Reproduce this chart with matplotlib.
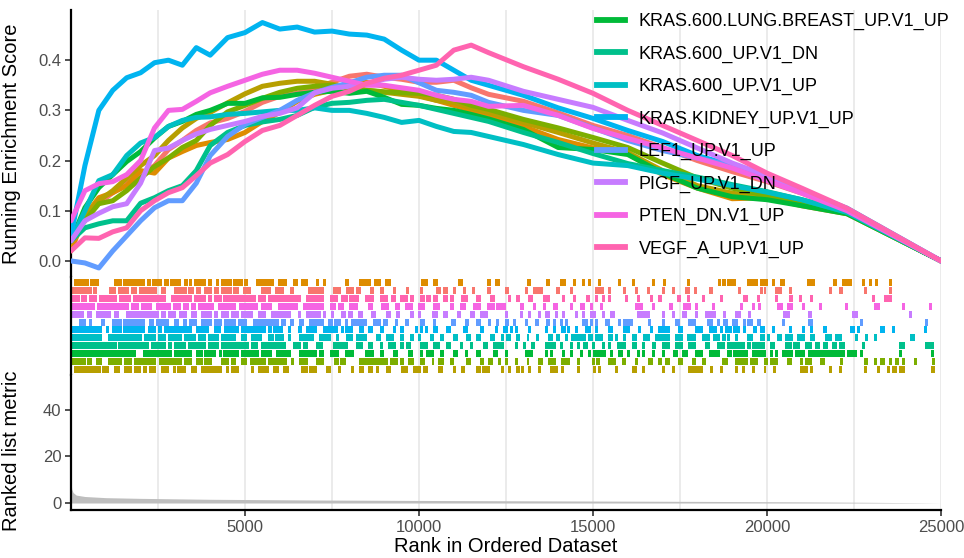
import matplotlib.pyplot as plt
from matplotlib.lines import Line2D

plt.rcParams['font.family'] = ['Liberation Sans', 'DejaVu Sans']

# ---------------------------------------------------------------------------
# data
# ---------------------------------------------------------------------------
GENE_SETS = ['KRAS.300_UP.V1_DN', 'KRAS.300_UP.V1_UP', 'KRAS.50_UP.V1_DN',
             'KRAS.50_UP.V1_UP', 'KRAS.600.LUNG.BREAST_UP.V1_UP',
             'KRAS.600_UP.V1_DN', 'KRAS.600_UP.V1_UP', 'KRAS.KIDNEY_UP.V1_UP',
             'LEF1_UP.V1_UP', 'PIGF_UP.V1_DN', 'PTEN_DN.V1_UP', 'VEGF_A_UP.V1_UP']
COLORS = ['#F8766D', '#DE8C00', '#B79F00', '#7CAE00', '#00BA38', '#00C08B',
          '#00BFC4', '#00B4F0', '#619CFF', '#C77CFF', '#F564E3', '#FF64B0']
LEGEND_SETS = GENE_SETS[4:]

RANKS = [0, 400, 800, 1200, 1600, 2000, 2400, 2800, 3200, 3600,
         4000, 4500, 5000, 5500, 6000, 6500, 7000, 7500, 8000, 8500,
         9000, 9500, 10000, 10500, 11000, 11500, 12000,
         13000, 14000, 15000, 16000, 17000, 18000, 19000, 20000, 21000,
         22300, 25000]

ES_KRAS300_DN = [0.05, 0.09, 0.115, 0.136, 0.155, 0.172, 0.19, 0.222, 0.24, 0.26,
                 0.275, 0.284, 0.298, 0.316, 0.328, 0.334, 0.344, 0.356, 0.368, 0.372,
                 0.366, 0.362, 0.356, 0.356, 0.36, 0.345, 0.332,
                 0.318, 0.295, 0.27, 0.25, 0.226, 0.2, 0.178, 0.158, 0.135, 0.1, 0.0]
ES_KRAS300_UP = [0.02, 0.09, 0.126, 0.136, 0.15, 0.18, 0.175, 0.205, 0.218, 0.23,
                 0.236, 0.242, 0.256, 0.278, 0.296, 0.318, 0.332, 0.34, 0.352, 0.356,
                 0.348, 0.34, 0.33, 0.32, 0.31, 0.3, 0.292,
                 0.268, 0.242, 0.225, 0.214, 0.172, 0.145, 0.124, 0.126, 0.11, 0.094, 0.0]
ES_KRAS50_DN = [0.04, 0.09, 0.12, 0.14, 0.165, 0.19, 0.21, 0.24, 0.265, 0.284,
                0.296, 0.315, 0.333, 0.348, 0.354, 0.358, 0.358, 0.352, 0.346, 0.34,
                0.336, 0.332, 0.328, 0.32, 0.316, 0.305, 0.296,
                0.276, 0.256, 0.235, 0.216, 0.18, 0.15, 0.135, 0.126, 0.112, 0.095, 0.0]
ES_KRAS50_UP = [0.046, 0.08, 0.114, 0.12, 0.14, 0.165, 0.188, 0.205, 0.226, 0.24,
                0.27, 0.297, 0.31, 0.324, 0.336, 0.344, 0.348, 0.35, 0.344, 0.34,
                0.337, 0.335, 0.334, 0.33, 0.322, 0.31, 0.302,
                0.282, 0.265, 0.246, 0.226, 0.195, 0.165, 0.145, 0.13, 0.115, 0.096, 0.0]
ES_KRAS600_LB = [0.04, 0.106, 0.146, 0.172, 0.198, 0.218, 0.245, 0.268, 0.278, 0.292,
                 0.30, 0.314, 0.314, 0.325, 0.326, 0.332, 0.336, 0.338, 0.334, 0.338,
                 0.326, 0.312, 0.31, 0.304, 0.30, 0.292, 0.283,
                 0.262, 0.226, 0.222, 0.212, 0.175, 0.145, 0.128, 0.122, 0.11, 0.094, 0.0]
ES_KRAS600_DN = [0.04, 0.066, 0.074, 0.08, 0.08, 0.115, 0.126, 0.14, 0.15, 0.18,
                 0.23, 0.256, 0.27, 0.277, 0.282, 0.29, 0.306, 0.314, 0.316, 0.32,
                 0.322, 0.316, 0.31, 0.302, 0.294, 0.286, 0.278,
                 0.256, 0.236, 0.214, 0.194, 0.18, 0.167, 0.152, 0.138, 0.122, 0.097, 0.0]
ES_KRAS600_UP = [0.04, 0.10, 0.16, 0.172, 0.21, 0.235, 0.246, 0.268, 0.28, 0.286,
                 0.287, 0.292, 0.294, 0.297, 0.30, 0.30, 0.305, 0.30, 0.30, 0.294,
                 0.286, 0.276, 0.28, 0.268, 0.258, 0.256, 0.248,
                 0.232, 0.212, 0.195, 0.19, 0.175, 0.163, 0.15, 0.137, 0.122, 0.097, 0.0]
ES_KIDNEY = [0.05, 0.19, 0.30, 0.34, 0.365, 0.375, 0.395, 0.40, 0.39, 0.425,
             0.41, 0.445, 0.455, 0.475, 0.462, 0.466, 0.456, 0.458, 0.452, 0.45,
             0.442, 0.42, 0.40, 0.40, 0.38, 0.36, 0.35,
             0.33, 0.305, 0.284, 0.26, 0.238, 0.21, 0.19, 0.165, 0.14, 0.105, 0.0]
ES_LEF1 = [0.0, -0.004, -0.014, 0.02, 0.05, 0.08, 0.106, 0.12, 0.12, 0.155,
           0.21, 0.248, 0.272, 0.286, 0.30, 0.32, 0.335, 0.346, 0.355, 0.366,
           0.37, 0.37, 0.355, 0.34, 0.336, 0.33, 0.316,
           0.30, 0.29, 0.265, 0.24, 0.22, 0.205, 0.19, 0.17, 0.14, 0.103, 0.0]
ES_PIGF = [0.04, 0.08, 0.095, 0.108, 0.114, 0.155, 0.22, 0.225, 0.24, 0.253,
           0.262, 0.27, 0.278, 0.288, 0.294, 0.305, 0.335, 0.344, 0.348, 0.352,
           0.362, 0.366, 0.362, 0.36, 0.362, 0.366, 0.36,
           0.338, 0.322, 0.306, 0.28, 0.255, 0.225, 0.195, 0.17, 0.14, 0.102, 0.0]
ES_PTEN = [0.08, 0.14, 0.154, 0.158, 0.172, 0.20, 0.265, 0.30, 0.302, 0.318,
           0.335, 0.348, 0.36, 0.372, 0.38, 0.38, 0.374, 0.366, 0.358, 0.35,
           0.35, 0.345, 0.34, 0.33, 0.322, 0.318, 0.308,
           0.31, 0.29, 0.264, 0.244, 0.225, 0.205, 0.185, 0.16, 0.135, 0.1, 0.0]
ES_VEGFA = [0.02, 0.046, 0.045, 0.058, 0.066, 0.10, 0.12, 0.136, 0.146, 0.17,
            0.195, 0.212, 0.238, 0.26, 0.27, 0.29, 0.31, 0.328, 0.338, 0.354,
            0.364, 0.37, 0.38, 0.39, 0.42, 0.43, 0.415,
            0.387, 0.362, 0.334, 0.30, 0.27, 0.24, 0.21, 0.175, 0.145, 0.105, 0.0]

# runs of hit ranks (start, end) for each gene set
HITS_KRAS300_DN = [(60, 350), (400, 590), (640, 730), (1120, 1260), (1360, 1640), (1740, 1880),
                   (1980, 2360), (2410, 2460), (2600, 2700), (2990, 3320), (3370, 3520),
                   (3610, 3710), (3850, 4040), (4140, 4240), (4330, 4620), (4670, 4810),
                   (4960, 5150), (5480, 5720), (5870, 5960), (6010, 6100), (6300, 6390),
                   (6820, 7260), (7540, 7740), (7930, 8120), (8220, 8310), (8600, 8700),
                   (8890, 8980), (9270, 9320), (9660, 9700), (10040, 10090), (10520, 10620),
                   (10710, 10810), (11000, 11050), (11290, 11340), (11530, 11580),
                   (11960, 12060), (12480, 12580), (13060, 13110), (13300, 13540),
                   (13970, 14020), (14350, 14400), (15070, 15310), (15460, 15510),
                   (15890, 15940), (16230, 16270), (16560, 16610), (16990, 17040),
                   (17280, 17330), (17670, 17760), (17910, 17950), (18340, 18430),
                   (19200, 19240), (19820, 19870), (19920, 19960), (20250, 20400),
                   (20640, 20690), (21790, 21840), (22080, 22170), (22800, 22840),
                   (23520, 23560)]
HITS_KRAS300_UP = [(110, 280), (320, 510), (570, 780), (1260, 1450), (1500, 2120), (2200, 2280),
                   (2360, 2600), (2700, 2800), (2870, 3130), (3280, 3350), (3420, 3470),
                   (3560, 3850), (3950, 4040), (4190, 4240), (4330, 4620), (4670, 4910),
                   (5000, 5080), (5340, 5820), (5960, 6200), (6390, 6490), (6630, 6780),
                   (7060, 7110), (7260, 7300), (7880, 7980), (8310, 8600), (8740, 8890),
                   (9030, 9180), (10090, 10140), (10180, 10230), (10420, 10520),
                   (11140, 11240), (11960, 12060), (12200, 12300), (13110, 13200),
                   (13680, 13730), (14070, 14210), (14450, 14500), (14690, 14740),
                   (14880, 14930), (15170, 15220), (15750, 15790), (16130, 16180),
                   (16710, 16750), (17040, 17090), (17710, 17760), (18620, 18670),
                   (18720, 18810), (18860, 18910), (18960, 19100), (19440, 19720),
                   (19820, 20010), (20160, 20200), (20400, 20490), (21160, 21360),
                   (21930, 21980), (22170, 22410), (22750, 22800), (22940, 22990),
                   (23130, 23180), (23520, 23560)]
HITS_KRAS50_DN = [(110, 830), (920, 1070), (1260, 1400), (1550, 1740), (1840, 1980), (2080, 2170),
                  (2270, 2410), (2600, 2800), (2940, 2990), (3080, 3280), (3470, 3610),
                  (3760, 4330), (4480, 4520), (4620, 4810), (5200, 5240), (5390, 5680),
                  (5820, 5960), (6100, 6250), (6630, 6780), (6870, 7060), (7350, 7450),
                  (7690, 7740), (8070, 8120), (8310, 8410), (8550, 8650), (8790, 8840),
                  (9080, 9180), (9510, 9660), (9850, 10040), (10140, 10230), (10570, 10660),
                  (11000, 11050), (11240, 11290), (11670, 11770), (11820, 12010),
                  (12390, 12430), (12580, 12630), (12820, 12870), (12960, 13010),
                  (13150, 13200), (13440, 13490), (13780, 13970), (14110, 14160),
                  (14550, 14590), (15030, 15070), (15170, 15220), (15650, 15700),
                  (16130, 16230), (16420, 16470), (16990, 17040), (17280, 17330),
                  (17760, 18150), (18380, 18430), (18670, 18720), (19100, 19150),
                  (19290, 19340), (19580, 19630), (19920, 19960), (20200, 20250),
                  (20970, 21160), (21260, 21310), (21790, 21840), (22080, 22130),
                  (22800, 22840), (23180, 23230), (23470, 23520), (23610, 23710),
                  (23800, 23950), (24720, 24810)]
HITS_KRAS50_UP = [(60, 400), (490, 590), (730, 880), (1070, 1450), (1550, 1740), (1840, 2410),
                  (2560, 3180), (3280, 3470), (3610, 3760), (3850, 4040), (4330, 4520),
                  (4620, 4720), (4910, 5050), (5150, 5580), (5680, 5960), (6010, 6200),
                  (6340, 6390), (6580, 6780), (7060, 7260), (7590, 7690), (7740, 7880),
                  (8310, 9080), (9180, 9370), (9460, 9560), (9700, 9850), (10040, 10140),
                  (10380, 10420), (10570, 10710), (10900, 11000), (11380, 11480),
                  (11770, 11860), (12010, 12100), (12290, 12340), (12480, 12530),
                  (12770, 12820), (13110, 13150), (13440, 13540), (13730, 13920),
                  (14110, 14310), (14550, 14590), (14980, 15030), (15120, 15170),
                  (15460, 15650), (15840, 15940), (16230, 16270), (16610, 16710),
                  (16900, 16950), (17090, 17190), (17470, 17570), (17860, 17950),
                  (18150, 18240), (18720, 18760), (18810, 18860), (19100, 19340),
                  (19390, 19440), (19530, 19720), (19920, 20010), (20110, 20300),
                  (20590, 20690), (20970, 21020), (21120, 21260), (21550, 21640),
                  (22130, 22170), (22800, 22890), (23090, 23130), (23280, 23370),
                  (23520, 23560), (23710, 23760), (23900, 23950), (24240, 24280),
                  (24770, 24810)]
HITS_KRAS600_LB = [(60, 200), (250, 1260), (1310, 1840), (2080, 2890), (2990, 3470), (3610, 3760),
                   (3850, 4140), (4280, 4330), (4380, 4810), (4910, 5390), (5480, 5770),
                   (5920, 6160), (6150, 6300), (6580, 7060), (7160, 7260), (7450, 7690),
                   (7880, 8120), (8460, 8700), (8890, 8980), (9270, 9370), (9700, 9800),
                   (10040, 10090), (10230, 10420), (10620, 10710), (11000, 11100),
                   (11340, 11380), (11670, 11770), (12150, 12250), (12480, 12530),
                   (13060, 13250), (13630, 13680), (13780, 13830), (14120, 14160),
                   (14350, 14400), (14640, 14690), (14880, 14930), (15030, 15360),
                   (15510, 15550), (15750, 15840), (15990, 16030), (16270, 16320),
                   (16420, 16470), (16710, 16750), (16990, 17040), (17330, 17430),
                   (17570, 17710), (17950, 18150), (18340, 18530), (18570, 18620),
                   (18860, 18960), (19050, 19440), (19580, 19960), (20110, 20160),
                   (20250, 20300), (20450, 20730), (20830, 21070), (21210, 21690),
                   (21740, 22220), (22320, 22560), (22700, 22750), (23800, 23850),
                   (24720, 24770)]
HITS_KRAS600_DN = [(60, 1310), (1360, 2220), (2320, 2360), (2410, 2700), (2800, 2890), (2990, 3280),
                   (3370, 3850), (3950, 4240), (4330, 5100), (5200, 5340), (5480, 6160),
                   (6010, 6100), (6390, 6580), (6680, 6780), (7060, 7210), (7540, 7930),
                   (8220, 8360), (8550, 8650), (8890, 8940), (9130, 9320), (9460, 9560),
                   (9660, 9750), (10040, 10230), (10420, 10570), (10810, 10900),
                   (11190, 11240), (11480, 11530), (11860, 11960), (12150, 12250),
                   (12290, 12430), (12770, 12820), (13010, 13060), (13250, 13300),
                   (13630, 13920), (14070, 14110), (14350, 14400), (14550, 14590),
                   (14740, 14830), (14980, 15030), (15270, 15310), (15460, 15510),
                   (15700, 15940), (16130, 16230), (16420, 16470), (16710, 16800),
                   (16990, 17190), (17380, 17570), (17760, 17950), (18240, 18340),
                   (18570, 18760), (18860, 18960), (19000, 19340), (19440, 19530),
                   (19580, 19630), (19680, 19920), (20110, 20200), (20540, 20690),
                   (20780, 20930), (21120, 21260), (21400, 21500), (21640, 21740),
                   (21890, 21980), (22080, 22220), (22750, 22800), (23800, 23850),
                   (23900, 23950), (24570, 24770)]
HITS_KRAS600_UP = [(60, 880), (1070, 2030), (2120, 2410), (2510, 2700), (2800, 3180), (3280, 3560),
                   (3660, 3850), (3950, 4240), (4330, 4720), (4910, 5050), (5200, 5480),
                   (5680, 5820), (5870, 5960), (6010, 6100), (6250, 6300), (6580, 6970),
                   (7160, 7450), (7640, 7690), (7930, 8070), (8220, 8500), (8790, 8890),
                   (9080, 9270), (9460, 9560), (9750, 9850), (9990, 10040), (10330, 10420),
                   (10620, 10710), (11000, 11100), (11380, 11480), (11670, 11770),
                   (12060, 12150), (12390, 12430), (12530, 12630), (12820, 12870),
                   (13110, 13150), (13390, 13440), (13730, 13830), (13970, 14020),
                   (14210, 14260), (14400, 14690), (14740, 14790), (14880, 14980),
                   (15070, 15270), (15460, 15550), (15650, 15700), (15890, 15940),
                   (16130, 16230), (16470, 16610), (16800, 17190), (17380, 17570),
                   (17710, 17950), (18150, 18340), (18480, 18530), (18570, 18620),
                   (18720, 18810), (18860, 18910), (19100, 19150), (19440, 19580),
                   (19820, 19920), (20010, 20060), (20300, 20400), (20540, 20730),
                   (20880, 20930), (20970, 21070), (21260, 21360), (21690, 21840),
                   (21980, 22130), (22560, 22600), (22840, 22890), (23090, 23130),
                   (24140, 24240)]
HITS_KIDNEY = [(60, 880), (1020, 1070), (1210, 1450), (1500, 1790), (1840, 2120), (2220, 2410),
               (2510, 2600), (2700, 2800), (2840, 3470), (3610, 3950), (4140, 4280),
               (4430, 4810), (4910, 5580), (5680, 5770), (5820, 5960), (6010, 6060),
               (6250, 6300), (6540, 6630), (6780, 7060), (7260, 7640), (7780, 7830),
               (7880, 8070), (8310, 8410), (8550, 8650), (8890, 8980), (9270, 9320),
               (9460, 9560), (9900, 9940), (10040, 10090), (10180, 10230), (10420, 10520),
               (10810, 10900), (11290, 11380), (11770, 11860), (12200, 12250),
               (12430, 12530), (12630, 12670), (12770, 12820), (13150, 13200),
               (13630, 13680), (13870, 13920), (14110, 14210), (14260, 14310),
               (14500, 14550), (14790, 14930), (15070, 15120), (15460, 15550),
               (15890, 16030), (16320, 16370), (16660, 16710), (16900, 17190),
               (17470, 17570), (17950, 18150), (18340, 18530), (18670, 18720),
               (18810, 18960), (19050, 19200), (19340, 19390), (19630, 19680),
               (19820, 19920), (20160, 20200), (20640, 20690), (21020, 21070),
               (21260, 21310), (21640, 21690), (22410, 22510), (22600, 22650),
               (23280, 23370), (23610, 23660), (24530, 24570)]
HITS_LEF1 = [(250, 400), (540, 590), (880, 970), (1210, 1450), (1500, 1790), (1840, 2120),
             (2270, 2360), (2460, 2800), (2990, 3080), (3230, 3320), (3420, 3610),
             (3760, 4040), (4140, 4330), (4430, 4720), (4810, 5050), (5240, 5530),
             (5580, 5960), (6060, 6160), (6300, 6390), (6580, 6680), (6870, 7260),
             (7400, 7500), (7590, 7740), (7880, 7930), (8070, 8500), (8700, 8890),
             (8980, 9080), (9320, 9370), (9610, 9700), (10040, 10140), (10420, 10470),
             (10950, 11050), (11340, 11430), (11670, 11770), (12010, 12060),
             (12240, 12290), (12480, 12580), (12720, 12770), (13060, 13110),
             (13350, 13440), (13680, 13730), (13870, 13920), (14070, 14110),
             (14210, 14260), (14690, 14830), (14930, 14980), (15070, 15120),
             (15360, 15460), (15750, 15790), (15890, 16130), (16610, 16660),
             (16990, 17040), (17380, 17470), (17760, 17950), (18290, 18430),
             (18570, 18620), (18760, 18860), (19000, 19150), (19340, 19390),
             (19440, 19580), (19720, 19820), (20450, 20490), (21210, 21310),
             (22700, 22750), (24570, 24620)]
HITS_PIGF = [(60, 160), (200, 350), (490, 590), (730, 920), (970, 1120), (1260, 1360),
             (1600, 2320), (2360, 2510), (2600, 2700), (2800, 2990), (3130, 3320),
             (3470, 3610), (3760, 4040), (4140, 4190), (4330, 4520), (4620, 4810),
             (4910, 5200), (5390, 5580), (5770, 6160), (6200, 6300), (6540, 6580),
             (6780, 7160), (7260, 7300), (7500, 7540), (7780, 7880), (7980, 8070),
             (8260, 8360), (8650, 8740), (9080, 9180), (9370, 9420), (9750, 9850),
             (9990, 10040), (10380, 10520), (10710, 10810), (11100, 11190),
             (11480, 11580), (11770, 11960), (12480, 12530), (12910, 12960),
             (13150, 13200), (13440, 13490), (13630, 13730), (13920, 13970),
             (14120, 14160), (14500, 14550), (14690, 14740), (14930, 15070),
             (15270, 15310), (15510, 15600), (16270, 16610), (16990, 17040),
             (17280, 17330), (17570, 17670), (17950, 18000), (18240, 18390),
             (18430, 18520), (18760, 18810), (19100, 19240), (19480, 19530),
             (20490, 20640), (21210, 21260), (22460, 22600), (24090, 24140)]
HITS_PTEN = [(60, 400), (440, 680), (780, 920), (970, 1360), (1400, 1640), (1740, 1930),
             (2030, 2320), (2460, 2700), (2750, 2840), (2940, 3130), (3230, 3370),
             (3470, 3560), (3660, 4090), (4240, 4720), (4860, 5340), (5480, 5770),
             (5960, 6490), (6680, 7260), (7450, 7590), (7690, 7830), (8020, 8220),
             (8550, 8650), (8940, 9130), (9320, 9420), (9610, 9800), (9990, 10140),
             (10420, 10570), (10900, 11000), (11190, 11340), (11580, 11770),
             (11960, 12150), (12240, 12480), (12910, 13010), (13300, 13350),
             (13590, 13630), (13870, 13970), (14350, 14400), (14640, 14740),
             (14930, 14980), (15220, 15270), (16230, 16420), (16710, 16750),
             (17190, 17280), (17620, 17810), (17950, 18000), (18430, 18480),
             (19240, 19290), (19580, 19630), (19770, 19820), (20300, 20440),
             (20590, 20730), (21020, 21070), (21500, 21550), (22270, 22320),
             (23090, 23230), (23900, 23950), (24670, 24720)]
HITS_VEGFA = [(60, 250), (300, 440), (540, 730), (830, 920), (970, 1120), (1160, 1310),
              (1400, 1690), (1790, 2700), (2890, 3130), (3180, 3470), (3560, 3850),
              (3950, 4040), (4140, 4330), (4380, 4810), (4860, 5290), (5390, 5580),
              (5680, 5960), (6010, 6580), (6780, 7260), (7450, 7640), (7780, 7930),
              (8020, 8260), (8460, 8700), (8890, 9080), (9220, 9320), (9460, 9660),
              (9750, 9850), (10040, 10140), (10230, 10330), (10420, 10520),
              (10710, 10810), (10900, 11000), (11240, 11380), (11670, 11770),
              (12060, 12150), (12580, 12630), (12820, 12870), (13150, 13250),
              (13590, 13730), (14120, 14160), (14450, 14500), (14830, 14880),
              (15070, 15120), (15270, 15310), (15460, 15510), (15940, 15990),
              (16270, 16320), (16660, 16710), (16900, 16950), (17430, 17520),
              (17710, 17760), (18150, 18190), (18670, 18720), (19340, 19440),
              (19720, 19770), (20250, 20300), (20640, 20730), (20930, 20970),
              (21260, 21310), (23040, 23090), (23370, 23560)]

# rug rows from top to bottom
RUG_ORDER = ['KRAS.300_UP.V1_UP', 'KRAS.300_UP.V1_DN', 'VEGF_A_UP.V1_UP', 'PTEN_DN.V1_UP',
             'PIGF_UP.V1_DN', 'LEF1_UP.V1_UP', 'KRAS.KIDNEY_UP.V1_UP', 'KRAS.600_UP.V1_UP',
             'KRAS.600_UP.V1_DN', 'KRAS.600.LUNG.BREAST_UP.V1_UP', 'KRAS.50_UP.V1_UP',
             'KRAS.50_UP.V1_DN']

# ranked list metric (sorted gene-level statistic)
METRIC_RANK = [1, 5, 20, 60, 150, 400, 1000, 2000, 4000, 7000, 10000, 14000,
               18000, 21000, 23000, 24500, 25000]
METRIC_VALUE = [52, 8.5, 6, 4.5, 3.4, 2.8, 2.3, 2.0, 1.6, 1.3, 1.1, 0.9,
                0.7, 0.5, 0.3, 0.1, 0.0]

ES = [ES_KRAS300_DN, ES_KRAS300_UP, ES_KRAS50_DN, ES_KRAS50_UP, ES_KRAS600_LB,
      ES_KRAS600_DN, ES_KRAS600_UP, ES_KIDNEY, ES_LEF1, ES_PIGF, ES_PTEN, ES_VEGFA]
HITS = [HITS_KRAS300_DN, HITS_KRAS300_UP, HITS_KRAS50_DN, HITS_KRAS50_UP, HITS_KRAS600_LB,
        HITS_KRAS600_DN, HITS_KRAS600_UP, HITS_KIDNEY, HITS_LEF1, HITS_PIGF, HITS_PTEN,
        HITS_VEGFA]

# ---------------------------------------------------------------------------
# figure
# ---------------------------------------------------------------------------
W, H = 964, 558
fig = plt.figure(figsize=(W / 100, H / 100), dpi=100)
L, R = 71, 941
ax1 = fig.add_axes([L / W, 1 - 277 / H, (R - L) / W, 267 / H])
ax2 = fig.add_axes([L / W, 1 - 375 / H, (R - L) / W, 98 / H])
ax3 = fig.add_axes([L / W, 1 - 510 / H, (R - L) / W, 135 / H])

GRID = '#EBEBEB'
TXT = '#4D4D4D'
for ax in (ax1, ax2, ax3):
    ax.set_xlim(0, 25000)
    for s in ('top', 'right', 'bottom'):
        ax.spines[s].set_visible(False)
    ax.spines['left'].set_linewidth(1.6)
    ax.spines['left'].set_color('black')
    ax.set_xticks(range(5000, 25001, 5000))
    ax.set_xticks(range(2500, 25000, 5000), minor=True)
    ax.grid(axis='x', which='both', color=GRID, lw=1.4, zorder=0)
    ax.set_axisbelow(True)
    ax.tick_params(axis='x', which='both', length=0, labelbottom=False)

# running enrichment score
for name, col, es in zip(GENE_SETS, COLORS, ES):
    ax1.plot(RANKS, es, color=col, lw=3.6, solid_capstyle='round',
             solid_joinstyle='round', label=name, zorder=3)
ax1.set_ylim(-0.032, 0.5)
ax1.set_yticks([0.0, 0.1, 0.2, 0.3, 0.4])
ax1.set_yticklabels(['0.0', '0.1', '0.2', '0.3', '0.4'])
ax1.tick_params(axis='y', length=4, width=1.2, color='#333333', labelsize=12,
                labelcolor=TXT, pad=3)
ax1.set_ylabel('Running Enrichment Score', fontsize=14.5)
ax1.yaxis.set_label_coords(-0.058, 0.5)

handles = [Line2D([], [], color=COLORS[GENE_SETS.index(n)], lw=4.2) for n in LEGEND_SETS]
ax1.legend(handles, LEGEND_SETS, loc='upper left', bbox_to_anchor=(597 / W, 1 - 13 / H),
           bbox_transform=fig.transFigure, frameon=False, fontsize=13,
           handlelength=1.55, handletextpad=0.75, labelspacing=0.85,
           borderpad=0, borderaxespad=0)

# rug of hits
for row, name in enumerate(RUG_ORDER[::-1]):
    i = GENE_SETS.index(name)
    bars = [(s - 20, max(e - s, 45) + 40) for s, e in HITS[i]]
    ax2.broken_barh(bars, (row + 0.05, 0.9), facecolors=COLORS[i], lw=0, zorder=2)
ax2.set_ylim(-0.25, 12.25)
ax2.set_yticks([])

# ranked list metric
ax3.fill_between(METRIC_RANK, 0, METRIC_VALUE, color='#BEBEBE', lw=0, zorder=2)
ax3.set_ylim(-3, 55)
ax3.set_yticks([0, 20, 40])
ax3.spines['bottom'].set_visible(True)
ax3.spines['bottom'].set_linewidth(1.6)
ax3.spines['bottom'].set_color('black')
ax3.tick_params(axis='y', length=4, width=1.2, color='#333333', labelsize=12,
                labelcolor=TXT, pad=3)
ax3.tick_params(axis='x', which='major', length=4, width=1.2, color='#333333',
                labelsize=12, labelcolor=TXT, labelbottom=True, pad=3)
ax3.set_ylabel('Ranked list metric', fontsize=14.5)
ax3.yaxis.set_label_coords(-0.058, 0.44)
ax3.set_xlabel('Rank in Ordered Dataset', fontsize=14.5)
ax3.xaxis.set_label_coords(0.5, -0.2)

fig.savefig('out.png', dpi=100)
